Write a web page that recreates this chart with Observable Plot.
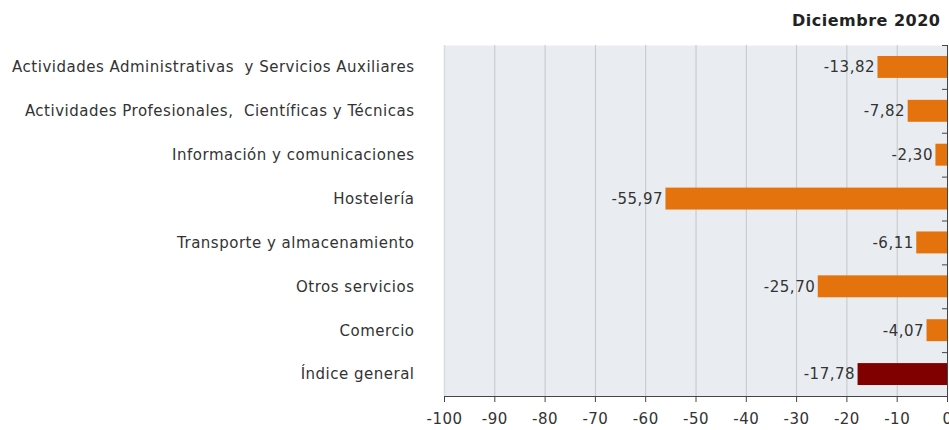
<!DOCTYPE html>
<html>
<head>
<meta charset="utf-8">
<script src="https://cdn.jsdelivr.net/npm/d3@7"></script>
<script src="https://cdn.jsdelivr.net/npm/@observablehq/plot@0.6"></script>
<style>
  html, body { margin: 0; padding: 0; background: #fff; }
  #chart svg { display: block; }
  #chart svg text { white-space: pre; letter-spacing: 0.5px; }
</style>
</head>
<body>
<div id="chart"></div>
<script>
const categories = [
  "Actividades Administrativas  y Servicios Auxiliares",
  "Actividades Profesionales,  Científicas y Técnicas",
  "Información y comunicaciones",
  "Hostelería",
  "Transporte y almacenamiento",
  "Otros servicios",
  "Comercio",
  "Índice general"
];
const values = [-13.82, -7.82, -2.30, -55.97, -6.11, -25.70, -4.07, -17.78];
const xTicks = [-100, -90, -80, -70, -60, -50, -40, -30, -20, -10, 0];
const gridTicks = [-90, -80, -70, -60, -50, -40, -30, -20, -10];
const title = "Diciembre 2020";

const data = categories.map((c, i) => ({cat: c, value: values[i], general: c === "Índice general"}));
const fmt = v => v.toFixed(2).replace(".", ",");

const font = "'DejaVu Sans', Verdana, sans-serif";
const textColor = "#333";
const halfStep = -21.94;

const chart = Plot.plot({
  width: 949,
  height: 430,
  marginLeft: 444,
  marginRight: 2,
  marginTop: 45,
  marginBottom: 34,
  style: {fontFamily: font, fontSize: "15px", color: textColor, background: "#fff"},
  x: {domain: [-100, 0], label: null},
  y: {domain: categories, paddingInner: 0.5, paddingOuter: 0.25, round: false, label: null},
  marks: [
    Plot.frame({fill: "#e9edf1", stroke: null}),
    Plot.ruleX(gridTicks, {stroke: "#c4c6c8", strokeWidth: 1}),
    Plot.ruleX([-100], {stroke: "#dadcde", strokeWidth: 1.5}),
    Plot.barX(data, {y: "cat", x1: 0, x2: "value", fill: d => d.general ? "#800000" : "#e4730d"}),
    Plot.text(data, {y: "cat", x: "value", text: d => fmt(d.value), textAnchor: "end", dx: -3, fill: textColor, fontSize: 15}),
    Plot.ruleX([0], {stroke: "#444", strokeWidth: 1}),
    Plot.ruleY(categories, {y: d => d, x1: -1, x2: 0, dy: halfStep, stroke: "#444"}),
    Plot.ruleY(categories.slice(-1), {y: d => d, x1: -100, x2: 0, dy: -halfStep, stroke: "#444"}),
    Plot.axisX({ticks: xTicks, tickFormat: d => d, tickSize: 6, tickPadding: 11, fontSize: 15, stroke: "#444", fill: textColor}),
    Plot.axisY({tickSize: 0, tickPadding: 30, fontSize: 15, fill: textColor}),
    Plot.text([title], {frameAnchor: "top-right", dx: -7, dy: -31, fontWeight: "bold", fontSize: 16, fill: "#222"})
  ]
});
document.getElementById("chart").append(chart);
</script>
</body>
</html>
